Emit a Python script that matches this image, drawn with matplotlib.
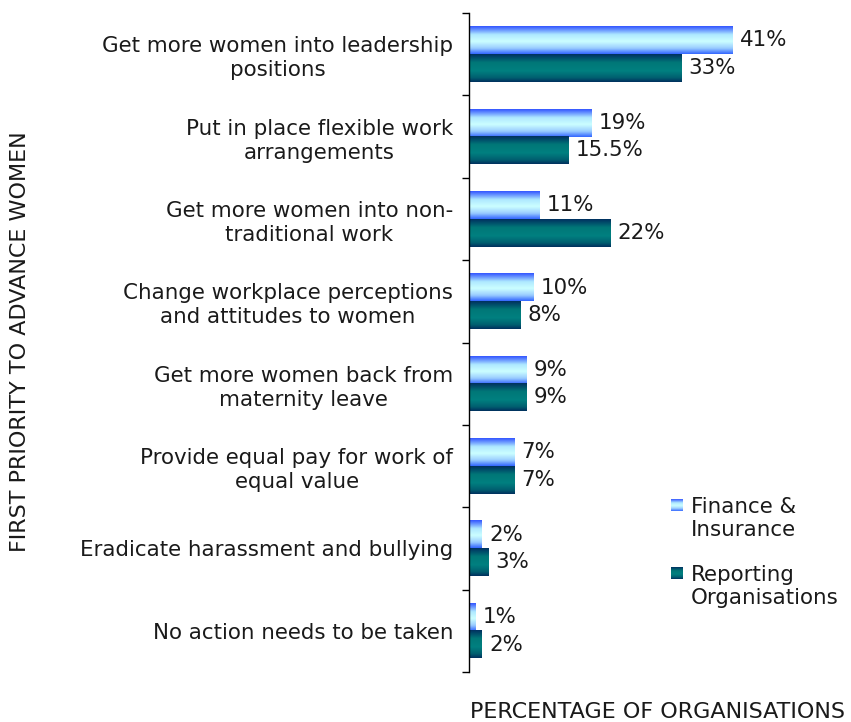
import numpy as np
import matplotlib
matplotlib.use("Agg")
import matplotlib.pyplot as plt
from matplotlib.colors import LinearSegmentedColormap

# ---- data ----
categories = [
    "Get more women into leadership\npositions",
    "Put in place flexible work\narrangements",
    "Get more women into non-\ntraditional work",
    "Change workplace perceptions\nand attitudes to women",
    "Get more women back from\nmaternity leave",
    "Provide equal pay for work of\nequal value",
    "Eradicate harassment and bullying",
    "No action needs to be taken",
]
finance = [41, 19, 11, 10, 9, 7, 2, 1]
reporting = [33, 15.5, 22, 8, 9, 7, 3, 2]
finance_labels = ["41%", "19%", "11%", "10%", "9%", "7%", "2%", "1%"]
reporting_labels = ["33%", "15.5%", "22%", "8%", "9%", "7%", "3%", "2%"]
series_names = ["Finance &\nInsurance", "Reporting\nOrganisations"]

FONT = 15.4
AXIS_FONT = 16
TEXT_COLOR = "#1a1a1a"

# vertical gradients: edge -> centre -> edge
fin_cmap = LinearSegmentedColormap.from_list(
    "fin", [(0.0, "#3355ff"), (0.3, "#aee8ff"), (0.55, "#ccffff"), (0.8, "#99ccff"), (1.0, "#3366ff")])
rep_cmap = LinearSegmentedColormap.from_list(
    "rep", [(0.0, "#003060"), (0.3, "#007878"), (0.6, "#008080"), (0.85, "#006070"), (1.0, "#00305e")])
grad = np.linspace(0, 1, 64).reshape(-1, 1)

plt.rcParams["font.family"] = "DejaVu Sans"

fig = plt.figure(figsize=(8.51, 7.22), dpi=100)
ax = fig.add_axes([469 / 851, 1 - 672 / 722, 321.5 / 851, (672 - 13) / 722])

n = len(categories)
y = np.arange(n)
h = 0.335


def gradient_bar(ax, y0, y1, width, cmap):
    # y axis is inverted: y0 is the upper edge
    ax.imshow(grad, cmap=cmap, aspect="auto", extent=[0, width, y1, y0],
              interpolation="bicubic", zorder=2)


for i in range(n):
    gradient_bar(ax, y[i] - h, y[i], finance[i], fin_cmap)
    gradient_bar(ax, y[i], y[i] + h, reporting[i], rep_cmap)
    ax.text(finance[i] + 1.1, y[i] - h / 2, finance_labels[i], va="center", ha="left",
            fontsize=FONT, color=TEXT_COLOR)
    ax.text(reporting[i] + 1.1, y[i] + h / 2, reporting_labels[i], va="center", ha="left",
            fontsize=FONT, color=TEXT_COLOR)

ax.set_xlim(0, 50)
ax.set_ylim(n - 0.5, -0.5)

for side in ("top", "right", "bottom"):
    ax.spines[side].set_visible(False)
ax.spines["left"].set_color("black")
ax.spines["left"].set_linewidth(1.0)

ax.set_xticks([])
ax.set_yticks(y)
ax.set_yticklabels(categories, fontsize=FONT, color=TEXT_COLOR)
for lab in ax.get_yticklabels():
    lab.set_multialignment("center")
    lab.set_linespacing(1.25)
ax.set_yticks(np.arange(-0.5, n, 1.0), minor=True)
ax.tick_params(axis="y", which="major", length=0, pad=11.5)
ax.tick_params(axis="y", which="minor", length=5, width=1, color="black", direction="out")

fig.text(20 / 851, 1 - 342 / 722, "FIRST PRIORITY TO ADVANCE WOMEN", fontsize=AXIS_FONT,
         color=TEXT_COLOR, rotation=90, ha="center", va="center")
fig.text(470 / 851, 1 - 712 / 722, "PERCENTAGE OF ORGANISATIONS", fontsize=AXIS_FONT,
         color=TEXT_COLOR, ha="left", va="center")

# legend drawn by hand so the swatches keep their gradients
legend_items = [(series_names[0], fin_cmap, 505), (series_names[1], rep_cmap, 573)]
for name, cmap, yc in legend_items:
    sw = fig.add_axes([671 / 851, 1 - (yc + 6) / 722, 12 / 851, 12 / 722])
    sw.imshow(grad, cmap=cmap, aspect="auto", interpolation="bicubic")
    sw.set_axis_off()
    fig.text(691 / 851, 1 - (yc + 13.5) / 722, name, fontsize=FONT, color=TEXT_COLOR,
             ha="left", va="center", linespacing=1.2)

fig.savefig("out.png", dpi=100)
